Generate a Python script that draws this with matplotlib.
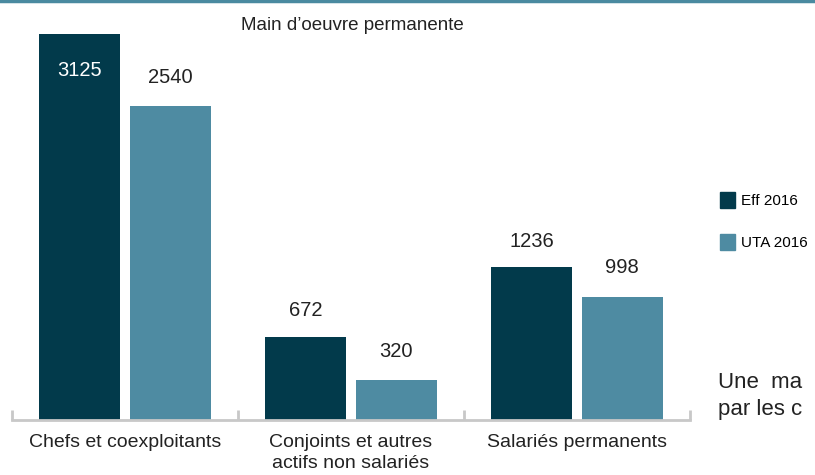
import matplotlib
matplotlib.use("Agg")
import matplotlib.pyplot as plt
import numpy as np
from matplotlib.lines import Line2D
from matplotlib.patches import Patch

# donnees
categories = ["Chefs et coexploitants", "Conjoints et autres\nactifs non salariés", "Salariés permanents"]
eff_2016 = [3125, 672, 1236]
uta_2016 = [2540, 320, 998]
series_names = ["Eff 2016", "UTA 2016"]

dark = "#023a4b"
teal = "#4e8ba2"
txt = "#222222"

plt.rcParams['font.family'] = ['Liberation Sans', 'DejaVu Sans']

fig = plt.figure(figsize=(8.15, 4.75), dpi=100)
ax = fig.add_axes([12 / 815, 1 - 420 / 475, 678 / 815, 410 / 475])

x = np.arange(len(categories))
w = 0.36
off = 0.2
ax.bar(x - off, eff_2016, w, color=dark)
ax.bar(x + off, uta_2016, w, color=teal)

ax.set_xlim(-0.5, 2.5)
ax.set_ylim(0, 3319)

# etiquettes de valeurs
for i, v in enumerate(eff_2016):
    if v > 3000:
        # dans la barre, en blanc
        ax.annotate(str(v), (x[i] - off, v), xytext=(0, -26), textcoords="offset points",
                    ha="center", va="center", color="white", fontsize=14.5)
    else:
        ax.annotate(str(v), (x[i] - off, v), xytext=(0, 12), textcoords="offset points",
                    ha="center", va="bottom", color=txt, fontsize=14.5)
for i, v in enumerate(uta_2016):
    ax.annotate(str(v), (x[i] + off, v), xytext=(0, 14), textcoords="offset points",
                ha="center", va="bottom", color=txt, fontsize=14.5)

for s in ["top", "right", "left"]:
    ax.spines[s].set_visible(False)
ax.spines["bottom"].set_color("#c8c8c8")
ax.spines["bottom"].set_linewidth(2)
ax.set_yticks([])
ax.set_xticks([-0.5, 0.5, 1.5, 2.5])
ax.set_xticklabels([])
ax.tick_params(axis="x", direction="in", length=7, width=2, color="#c8c8c8")
for i, c in enumerate(categories):
    ax.text(x[i], -0.034 * 3319, c, ha="center", va="top", fontsize=14,
            color=txt, linespacing=1.3)

fig.text(352 / 815, 1 - 25 / 475, "Main d\u2019oeuvre permanente", ha="center", va="center",
         fontsize=13.5, color=txt)

# legende
handles = [Patch(color=dark), Patch(color=teal)]
fig.legend(handles, series_names, loc="upper left", bbox_to_anchor=(720 / 815, 1 - 192 / 475),
           frameon=False, fontsize=11, handlelength=1.0, handleheight=1.2,
           handletextpad=0.35, labelspacing=1.7, borderpad=0, borderaxespad=0)

# ligne du haut
fig.add_artist(Line2D([0, 1], [1 - 1 / 475, 1 - 1 / 475], color="#4a8aa0", lw=2.5))

# texte coupe a droite (comme dans l'original)
fig.text(718 / 815, 1 - 382 / 475, "Une  ma", ha="left", va="center",
         fontsize=16, color=txt)
fig.text(718 / 815, 1 - 410 / 475, "par les c", ha="left", va="center",
         fontsize=16, color=txt)

fig.savefig("out.png", dpi=100)
